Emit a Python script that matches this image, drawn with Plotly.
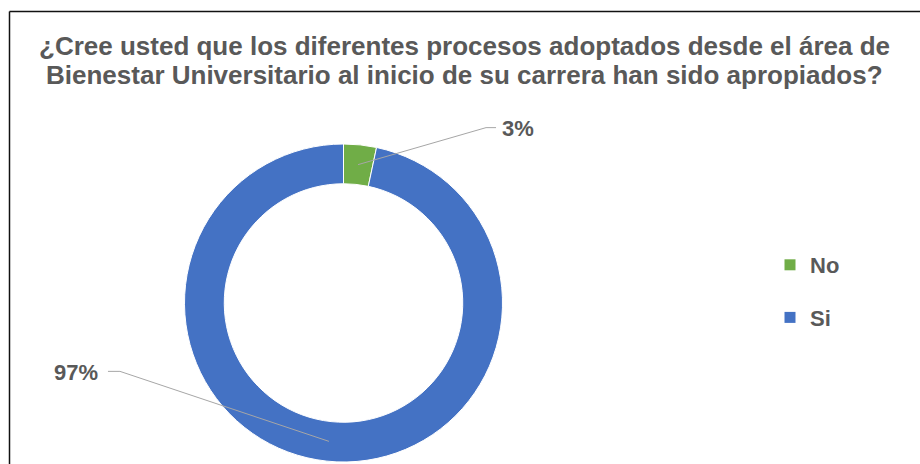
import math
import plotly.graph_objects as go

# Survey answers (counts) read from the donut: 3% / 97%
labels = ["No", "Si"]
values = [1, 29]
colors = ["#70AD47", "#4472C4"]

title_lines = [
    "¿Cree usted que los diferentes procesos adoptados desde el área de",
    "Bienestar Universitario al inicio de su carrera han sido apropiados?",
]

W, H = 920, 464
FONT = "Liberation Sans, Arial, sans-serif"
GREY = "#595959"

# donut placement in pixels
cx, cy, r_out = 343.5, 303, 159
hole = 0.75

# label offsets (pixels) from the slice anchor, and the bends of the leader line
label_offsets = [(160, -36), (-253, -69)]
elbow_offsets = [(128, -37), (-209, -70)]
tail_offsets = [(138, -37), (-221, -70)]


def px(x):
    return x / W


def py(y):
    return 1 - y / H


fig = go.Figure()

fig.add_trace(go.Pie(
    labels=labels,
    values=values,
    hole=hole,
    sort=False,
    direction="clockwise",
    rotation=0,
    marker=dict(colors=colors, line=dict(color="white", width=1)),
    textinfo="none",
    hoverinfo="label+percent",
    showlegend=False,
    domain=dict(x=[px(cx - r_out), px(cx + r_out)],
                y=[py(cy + r_out), py(cy - r_out)]),
))

# legend entries (pie legend can't be spaced out, so use stand-in traces)
for lab, col in zip(labels, colors):
    fig.add_trace(go.Scatter(
        x=[None], y=[None], mode="markers", name=f"<b>{lab}</b>",
        legendgroup=lab,
        marker=dict(symbol="square", size=11, color=col),
    ))

# data labels with leader lines, placed from each slice's mid angle
total = sum(values)
r_mid = r_out * (1 + hole) / 2
start = 0.0
shapes = []
annotations = []
for i, v in enumerate(values):
    frac = v / total
    mid = (start + frac / 2) * 2 * math.pi
    start += frac
    ax_ = cx + r_mid * math.sin(mid)
    ay_ = cy - r_mid * math.cos(mid)
    ex, ey = ax_ + elbow_offsets[i][0], ay_ + elbow_offsets[i][1]
    tx, ty = ax_ + tail_offsets[i][0], ay_ + tail_offsets[i][1]
    shapes.append(dict(
        type="path", xref="paper", yref="paper",
        path=f"M {px(ax_)} {py(ay_)} L {px(ex)} {py(ey)} L {px(tx)} {py(ty)}",
        line=dict(color="#A6A6A6", width=1),
    ))
    lx, ly = ax_ + label_offsets[i][0], ay_ + label_offsets[i][1]
    annotations.append(dict(
        x=px(lx), y=py(ly), xref="paper", yref="paper",
        text=f"<b>{round(frac * 100)}%</b>", showarrow=False,
        font=dict(family=FONT, size=22, color=GREY),
        xanchor="center", yanchor="middle",
    ))

# title as two annotations to get the tight line spacing
for line, ty in zip(title_lines, [46, 75]):
    annotations.append(dict(
        x=px(464), y=py(ty), xref="paper", yref="paper",
        text=f"<b>{line}</b>", showarrow=False,
        font=dict(family=FONT, size=26, color=GREY),
        xanchor="center", yanchor="middle",
    ))

# chart area frame: only the top and left edges fall inside the crop
frame = dict(color="#111111", width=1.5)
shapes.append(dict(type="line", xref="paper", yref="paper",
                   x0=px(9.5), x1=1, y0=py(11.5), y1=py(11.5), line=frame))
shapes.append(dict(type="line", xref="paper", yref="paper",
                   x0=px(9.5), x1=px(9.5), y0=0, y1=py(11.5), line=frame))

fig.update_layout(
    width=W, height=H,
    margin=dict(l=0, r=0, t=0, b=0),
    paper_bgcolor="white",
    plot_bgcolor="white",
    xaxis=dict(visible=False),
    yaxis=dict(visible=False),
    legend=dict(
        x=px(770), y=py(244), xanchor="left", yanchor="top",
        tracegroupgap=21,
        font=dict(family=FONT, size=22, color=GREY),
        bgcolor="rgba(0,0,0,0)",
    ),
    shapes=shapes,
    annotations=annotations,
)

# drop the default page margin so the figure fills the window exactly
fig.write_html(
    "out.html",
    config={"displayModeBar": False},
    post_script="document.body.style.margin='0';document.body.style.overflow='hidden';",
)
